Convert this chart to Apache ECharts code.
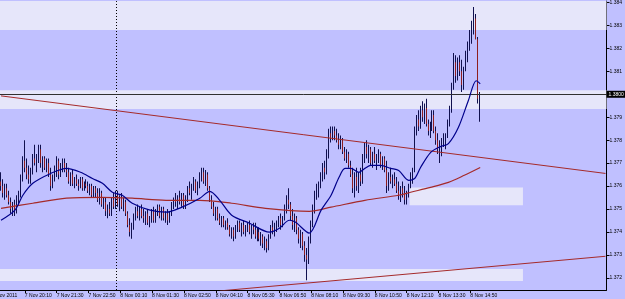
<!DOCTYPE html>
<html><head><meta charset="utf-8">
<script src="https://cdn.jsdelivr.net/npm/echarts@6/dist/echarts.min.js"></script>
<style>html,body{margin:0;padding:0;background:#c0c0ff;overflow:hidden}#c{width:625px;height:299px}</style>
</head><body><div id="c"></div>
<script>
// ---- data (EURUSD M5) ----
const opens = [1.3762,1.3760,1.3757,1.3759,1.3756,1.3753,1.3750,1.3752,1.3749,1.3755,
1.3757,1.3764,1.3771,1.3768,1.3765,1.3763,1.3767,1.3772,1.3770,1.3773,
1.3776,1.3770,1.3772,1.3768,1.3770,1.3765,1.3760,1.3764,1.3767,1.3771,
1.3765,1.3769,1.3770,1.3767,1.3766,1.3762,1.3765,1.3761,1.3763,1.3761,
1.3760,1.3763,1.3759,1.3761,1.3760,1.3758,1.3760,1.3756,1.3759,1.3757,
1.3754,1.3757,1.3752,1.3753,1.3749,1.3750,1.3748,1.3754,1.3751,1.3756,
1.3752,1.3755,1.3751,1.3753,1.3748,1.3743,1.3740,1.3742,1.3747,1.3749,
1.3747,1.3750,1.3747,1.3746,1.3748,1.3744,1.3746,1.3749,1.3745,1.3749,
1.3751,1.3747,1.3750,1.3746,1.3748,1.3745,1.3748,1.3752,1.3754,1.3753,
1.3755,1.3753,1.3756,1.3751,1.3755,1.3759,1.3757,1.3760,1.3762,1.3758,
1.3761,1.3764,1.3766,1.3762,1.3765,1.3759,1.3754,1.3751,1.3748,1.3750,
1.3746,1.3744,1.3746,1.3743,1.3744,1.3742,1.3739,1.3741,1.3738,1.3742,
1.3744,1.3741,1.3743,1.3740,1.3742,1.3743,1.3740,1.3742,1.3741,1.3738,
1.3740,1.3737,1.3738,1.3735,1.3736,1.3733,1.3738,1.3742,1.3740,1.3743,
1.3744,1.3746,1.3743,1.3746,1.3751,1.3754,1.3752,1.3747,1.3743,1.3746,
1.3741,1.3737,1.3739,1.3734,1.3730,1.3728,1.3737,1.3744,1.3750,1.3756,
1.3759,1.3761,1.3764,1.3768,1.3766,1.3775,1.3783,1.3781,1.3784,1.3782,
1.3780,1.3778,1.3780,1.3775,1.3772,1.3774,1.3769,1.3765,1.3759,1.3764,
1.3760,1.3765,1.3762,1.3773,1.3777,1.3774,1.3776,1.3770,1.3774,1.3771,
1.3772,1.3774,1.3769,1.3772,1.3767,1.3760,1.3764,1.3762,1.3763,1.3761,
1.3758,1.3756,1.3759,1.3757,1.3754,1.3757,1.3760,1.3764,1.3767,1.3784,
1.3789,1.3786,1.3793,1.3790,1.3794,1.3787,1.3784,1.3786,1.3791,1.3784,
1.3780,1.3776,1.3778,1.3779,1.3781,1.3782,1.3788,1.3793,1.3804,1.3814,
1.3808,1.3814,1.3810,1.3804,1.3811,1.3817,1.3821,1.3826,1.3830,1.3833,
1.3824,1.3798];
const highs = [1.3766,1.3763,1.3761,1.3761,1.3758,1.3755,1.3753,1.3754,1.3756,1.3758,
1.3765,1.3773,1.3780,1.3772,1.3769,1.3768,1.3774,1.3778,1.3774,1.3778,
1.3778,1.3773,1.3773,1.3772,1.3772,1.3768,1.3765,1.3769,1.3773,1.3772,
1.3770,1.3772,1.3772,1.3770,1.3768,1.3766,1.3767,1.3764,1.3765,1.3763,
1.3764,1.3764,1.3762,1.3763,1.3762,1.3761,1.3761,1.3760,1.3760,1.3759,
1.3759,1.3758,1.3755,1.3755,1.3752,1.3753,1.3755,1.3757,1.3758,1.3758,
1.3756,1.3757,1.3755,1.3754,1.3749,1.3746,1.3744,1.3748,1.3751,1.3752,
1.3751,1.3752,1.3750,1.3749,1.3750,1.3747,1.3750,1.3751,1.3750,1.3752,
1.3752,1.3751,1.3751,1.3749,1.3750,1.3749,1.3753,1.3755,1.3757,1.3756,
1.3758,1.3757,1.3757,1.3756,1.3760,1.3762,1.3761,1.3764,1.3763,1.3762,
1.3766,1.3768,1.3768,1.3767,1.3766,1.3760,1.3756,1.3753,1.3751,1.3751,
1.3748,1.3747,1.3747,1.3745,1.3746,1.3743,1.3742,1.3742,1.3743,1.3745,
1.3745,1.3744,1.3745,1.3743,1.3744,1.3745,1.3743,1.3744,1.3744,1.3742,
1.3742,1.3740,1.3739,1.3738,1.3737,1.3739,1.3743,1.3745,1.3744,1.3745,
1.3747,1.3748,1.3747,1.3752,1.3756,1.3759,1.3753,1.3750,1.3748,1.3747,
1.3742,1.3741,1.3740,1.3736,1.3733,1.3738,1.3745,1.3752,1.3758,1.3761,
1.3762,1.3766,1.3770,1.3771,1.3776,1.3785,1.3786,1.3786,1.3786,1.3785,
1.3783,1.3782,1.3781,1.3777,1.3776,1.3775,1.3771,1.3768,1.3766,1.3768,
1.3766,1.3768,1.3774,1.3779,1.3780,1.3778,1.3777,1.3775,1.3777,1.3774,
1.3776,1.3775,1.3773,1.3773,1.3771,1.3766,1.3768,1.3765,1.3766,1.3764,
1.3762,1.3760,1.3762,1.3760,1.3758,1.3761,1.3766,1.3768,1.3786,1.3791,
1.3793,1.3795,1.3797,1.3796,1.3798,1.3789,1.3788,1.3793,1.3793,1.3786,
1.3783,1.3780,1.3781,1.3783,1.3783,1.3789,1.3795,1.3805,1.3818,1.3817,
1.3816,1.3817,1.3815,1.3812,1.3819,1.3823,1.3828,1.3832,1.3838,1.3835,
1.3825,1.3801];
const lows = [1.3758,1.3755,1.3754,1.3755,1.3752,1.3748,1.3747,1.3747,1.3748,1.3752,
1.3755,1.3762,1.3766,1.3763,1.3761,1.3761,1.3765,1.3769,1.3766,1.3770,
1.3768,1.3766,1.3767,1.3766,1.3764,1.3758,1.3759,1.3762,1.3764,1.3763,
1.3764,1.3766,1.3766,1.3764,1.3761,1.3760,1.3760,1.3759,1.3760,1.3758,
1.3759,1.3758,1.3758,1.3759,1.3757,1.3756,1.3755,1.3755,1.3755,1.3753,
1.3752,1.3751,1.3750,1.3747,1.3746,1.3747,1.3747,1.3750,1.3750,1.3751,
1.3749,1.3750,1.3749,1.3747,1.3742,1.3738,1.3737,1.3741,1.3745,1.3746,
1.3745,1.3746,1.3744,1.3743,1.3743,1.3742,1.3744,1.3744,1.3744,1.3747,
1.3746,1.3745,1.3745,1.3744,1.3743,1.3744,1.3747,1.3750,1.3751,1.3750,
1.3752,1.3751,1.3750,1.3750,1.3753,1.3756,1.3754,1.3758,1.3757,1.3756,
1.3759,1.3762,1.3761,1.3760,1.3758,1.3753,1.3750,1.3747,1.3745,1.3745,
1.3743,1.3742,1.3742,1.3741,1.3741,1.3738,1.3737,1.3736,1.3737,1.3740,
1.3740,1.3738,1.3739,1.3738,1.3740,1.3739,1.3737,1.3739,1.3737,1.3736,
1.3736,1.3734,1.3733,1.3732,1.3731,1.3732,1.3737,1.3739,1.3738,1.3740,
1.3742,1.3741,1.3742,1.3745,1.3748,1.3750,1.3745,1.3741,1.3740,1.3739,
1.3735,1.3733,1.3732,1.3727,1.3719,1.3726,1.3735,1.3742,1.3748,1.3754,
1.3755,1.3759,1.3762,1.3763,1.3765,1.3772,1.3779,1.3780,1.3780,1.3779,
1.3776,1.3776,1.3774,1.3771,1.3770,1.3768,1.3764,1.3757,1.3755,1.3758,
1.3757,1.3760,1.3761,1.3770,1.3772,1.3770,1.3769,1.3768,1.3770,1.3767,
1.3770,1.3768,1.3767,1.3766,1.3757,1.3758,1.3761,1.3759,1.3760,1.3757,
1.3754,1.3753,1.3755,1.3752,1.3752,1.3755,1.3759,1.3761,1.3766,1.3782,
1.3784,1.3785,1.3788,1.3787,1.3786,1.3782,1.3781,1.3784,1.3783,1.3778,
1.3774,1.3770,1.3773,1.3777,1.3776,1.3781,1.3786,1.3792,1.3802,1.3805,
1.3806,1.3808,1.3801,1.3802,1.3810,1.3814,1.3819,1.3822,1.3826,1.3824,
1.3796,1.3788];
const closes = [1.3760,1.3757,1.3759,1.3756,1.3753,1.3750,1.3752,1.3749,1.3755,1.3757,
1.3764,1.3771,1.3768,1.3765,1.3763,1.3767,1.3772,1.3770,1.3773,1.3776,
1.3770,1.3772,1.3768,1.3770,1.3765,1.3760,1.3764,1.3767,1.3771,1.3765,
1.3769,1.3770,1.3767,1.3766,1.3762,1.3765,1.3761,1.3763,1.3761,1.3760,
1.3763,1.3759,1.3761,1.3760,1.3758,1.3760,1.3756,1.3759,1.3757,1.3754,
1.3757,1.3752,1.3753,1.3749,1.3750,1.3748,1.3754,1.3751,1.3756,1.3752,
1.3755,1.3751,1.3753,1.3748,1.3743,1.3740,1.3742,1.3747,1.3749,1.3747,
1.3750,1.3747,1.3746,1.3748,1.3744,1.3746,1.3749,1.3745,1.3749,1.3751,
1.3747,1.3750,1.3746,1.3748,1.3745,1.3748,1.3752,1.3754,1.3753,1.3755,
1.3753,1.3756,1.3751,1.3755,1.3759,1.3757,1.3760,1.3762,1.3758,1.3761,
1.3764,1.3766,1.3762,1.3765,1.3759,1.3754,1.3751,1.3748,1.3750,1.3746,
1.3744,1.3746,1.3743,1.3744,1.3742,1.3739,1.3741,1.3738,1.3742,1.3744,
1.3741,1.3743,1.3740,1.3742,1.3743,1.3740,1.3742,1.3741,1.3738,1.3740,
1.3737,1.3738,1.3735,1.3736,1.3733,1.3738,1.3742,1.3740,1.3743,1.3744,
1.3746,1.3743,1.3746,1.3751,1.3754,1.3752,1.3747,1.3743,1.3746,1.3741,
1.3737,1.3739,1.3734,1.3730,1.3728,1.3737,1.3744,1.3750,1.3756,1.3759,
1.3761,1.3764,1.3768,1.3766,1.3775,1.3783,1.3781,1.3784,1.3782,1.3780,
1.3778,1.3780,1.3775,1.3772,1.3774,1.3769,1.3765,1.3759,1.3764,1.3760,
1.3765,1.3762,1.3773,1.3777,1.3774,1.3776,1.3770,1.3774,1.3771,1.3772,
1.3774,1.3769,1.3772,1.3767,1.3760,1.3764,1.3762,1.3763,1.3761,1.3758,
1.3756,1.3759,1.3757,1.3754,1.3757,1.3760,1.3764,1.3767,1.3784,1.3789,
1.3786,1.3793,1.3790,1.3794,1.3787,1.3784,1.3786,1.3791,1.3784,1.3780,
1.3776,1.3778,1.3779,1.3781,1.3782,1.3788,1.3793,1.3804,1.3814,1.3808,
1.3814,1.3810,1.3804,1.3811,1.3817,1.3821,1.3826,1.3830,1.3833,1.3824,
1.3798,1.3800];

// moving averages: [bar index, price]
const maFast = [[0,1.37451],[7,1.37495],[11,1.3756],[16,1.37612],[25,1.37655],[33,1.37677],[40,1.3766],[46,1.37633],[51,1.37612],[56,1.37573],[61,1.3756],[66,1.37525],[75,1.37495],[83,1.37486],[91,1.37508],[100,1.37547],[105,1.37577],[110,1.37538],[116,1.37473],[125,1.37438],[135,1.37399],[140,1.37416],[145,1.37451],[148,1.37443],[155,1.37395],[161,1.37495],[166,1.3756],[170,1.37638],[173,1.37677],[176,1.37677],[180,1.3766],[183,1.37677],[186,1.3769],[191,1.3769],[196,1.37677],[200,1.37668],[205,1.37625],[208,1.37633],[211,1.37681],[216,1.37746],[221,1.37772],[225,1.37785],[230,1.37855],[235,1.37972],[239,1.38059],[241,1.38046]];
const maSlow = [[0,1.37503],[16,1.37525],[33,1.37547],[50,1.37551],[66,1.37547],[83,1.37538],[100,1.37538],[116,1.37525],[133,1.37503],[155,1.3749],[166,1.37508],[183,1.37538],[200,1.3756],[206,1.37573],[216,1.37594],[225,1.37616],[233,1.37647],[241,1.37681]];
const trendUpper = [[0,1.37993],[304,1.37655]];
const trendLower = [[110,1.37143],[304,1.37294]];

// chart objects (rectangles): [fromBar, toBar, lowPrice, highPrice]; -1 = full width
const rectBands = [[-1,-1,1.3828,1.38406],[-1,-1,1.37936,1.38018],[206,262,1.37516,1.37594],[0,262,1.37186,1.37238]];
const separatorBar = 58;

// axis
const totalSlots = 305;
const yMin = 1.37147, yMax = 1.38406;
const firstLabel = "7 Nov 2011";
const tickBars = [12,28,44,60,76,92,108,124,140,156,172,188,204,220,236];
const tickLabels = ["7 Nov 20:10","7 Nov 21:30","7 Nov 22:50","8 Nov 00:10","8 Nov 01:30","8 Nov 02:50","8 Nov 04:10","8 Nov 05:30","8 Nov 06:50","8 Nov 08:10","8 Nov 09:30","8 Nov 10:50","8 Nov 12:10","8 Nov 13:30","8 Nov 14:50"];

// ---- chart ----
const BG = '#c0c0ff', LIGHT = '#e6e6fa', WICK = '#10104e', UP = '#10104e', DOWN = '#8e1e1e', BROWN = '#a52a2a', NAVY = '#00008b';
const FONT = 'Liberation Sans';
const cats = Array.from({length: totalSlots}, (_, i) => String(i));
const candleData = opens.map((o, i) => [i, o, closes[i], lows[i], highs[i]]);
const lastClose = closes[closes.length - 1];

const chart = echarts.init(document.getElementById('c'), null, {renderer: 'canvas'});
chart.setOption({
  animation: false,
  backgroundColor: BG,
  grid: {left: 0, top: 0, right: 15, bottom: 9, containLabel: false},
  xAxis: {
    type: 'category', data: cats, boundaryGap: true,
    axisLine: {show: true, lineStyle: {color: '#000', width: 1}},
    axisTick: {show: true, alignWithLabel: true, length: 3, lineStyle: {color: '#000'},
      interval: (i) => tickBars.indexOf(i) >= 0},
    axisLabel: {show: true, interval: (i) => tickBars.indexOf(i) >= 0,
      formatter: (v, i) => { const k = tickBars.indexOf(Number(v)); return k >= 0 ? tickLabels[k] : ''; },
      align: 'left', fontSize: 5, color: '#000', margin: 3, fontFamily: FONT},
    splitLine: {show: false}
  },
  yAxis: {
    type: 'value', position: 'right', min: yMin, max: yMax, splitNumber: 12, scale: true,
    axisLine: {show: true, lineStyle: {color: '#000', width: 1}},
    axisTick: {show: true, length: 3, lineStyle: {color: '#000'}},
    axisLabel: {show: true, fontSize: 5, color: '#000', margin: 3, fontFamily: FONT,
      showMinLabel: false, showMaxLabel: false, formatter: (v) => v.toFixed(3)},
    splitLine: {show: false}
  },
  graphic: [{type: 'text', x: -8, y: 293, style: {text: firstLabel, fontSize: 5, fill: '#000', fontFamily: FONT}}],
  series: [
    {type: 'custom', z: 1, silent: true, data: rectBands, clip: true,
      renderItem: function (params, api) {
        const cs = params.coordSys;
        const x0b = api.value(0), x1b = api.value(1);
        const pTop = api.coord([0, api.value(3)]), pBot = api.coord([0, api.value(2)]);
        let x0, x1;
        if (x0b < 0) { x0 = cs.x; x1 = cs.x + cs.width; }
        else {
          const w = api.size([1, 0])[0];
          x0 = api.coord([x0b, api.value(2)])[0] - w / 2;
          x1 = api.coord([x1b, api.value(2)])[0] + w / 2;
        }
        return {type: 'rect', shape: {x: x0, y: pTop[1], width: x1 - x0, height: pBot[1] - pTop[1]}, style: {fill: LIGHT}};
      }},
    {type: 'line', data: [], z: 2, silent: true,
      markLine: {silent: true, symbol: 'none', label: {show: false},
        lineStyle: {color: '#000', type: [1, 2], width: 1}, data: [{xAxis: separatorBar}]}},
    {type: 'custom', z: 3, data: candleData, encode: {x: 0, y: [1, 2, 3, 4]}, clip: true,
      renderItem: function (params, api) {
        const i = api.value(0), o = api.value(1), c = api.value(2), l = api.value(3), h = api.value(4);
        const pH = api.coord([i, h]), pL = api.coord([i, l]), pO = api.coord([i, o]), pC = api.coord([i, c]);
        const x = Math.round(pH[0]) - 1;
        const top = Math.min(pO[1], pC[1]), bh = Math.max(1, Math.abs(pO[1] - pC[1]));
        return {type: 'group', children: [
          {type: 'rect', shape: {x: x, y: pH[1], width: 1, height: Math.max(1, pL[1] - pH[1])}, style: {fill: WICK}},
          {type: 'rect', shape: {x: x, y: top, width: 1, height: bh}, style: {fill: c >= o ? UP : DOWN}}
        ]};
      }},
    {type: 'line', data: trendUpper, z: 4, symbol: 'none', lineStyle: {color: BROWN, width: 1}, silent: true},
    {type: 'line', data: trendLower, z: 4, symbol: 'none', lineStyle: {color: BROWN, width: 1}, silent: true},
    {type: 'line', data: maSlow, z: 5, symbol: 'none', smooth: 0.3, lineStyle: {color: BROWN, width: 1.2}, silent: true},
    {type: 'line', data: maFast, z: 6, symbol: 'none', smooth: 0.3, lineStyle: {color: NAVY, width: 1.2}, silent: true},
    {type: 'line', data: [], z: 7, silent: true,
      markLine: {silent: true, symbol: 'none', lineStyle: {color: '#303030', type: 'solid', width: 1},
        label: {show: true, position: 'end', distance: 0, formatter: lastClose.toFixed(4), color: '#fff',
          backgroundColor: '#000', padding: [1, 2, 1, 2], fontSize: 5, fontFamily: FONT},
        data: [{yAxis: lastClose}]}}
  ]
});
</script>
</body></html>
